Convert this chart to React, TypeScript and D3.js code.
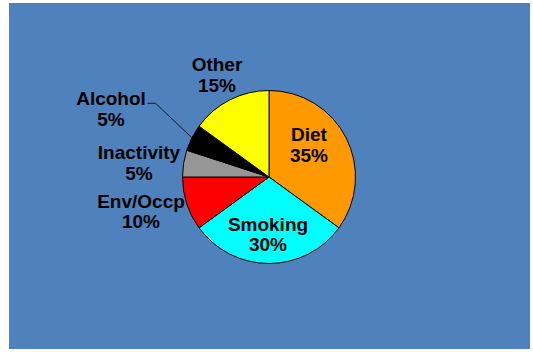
import React from "react";
import * as d3 from "d3";

// causes of cancer, share in %
const categories = ["Diet", "Smoking", "Env/Occp", "Inactivity", "Alcohol", "Other"];
const shares = [35, 30, 10, 5, 5, 15];
const sliceColors = ["#FF9900", "#00FFFF", "#FF0000", "#969696", "#000000", "#FFFF00"];

// label block placement relative to the pie centre (first baseline)
const labelOffsets: [number, number][] = [
  [40, -36],
  [-1, 53.5],
  [-128, 30.5],
  [-130, -18],
  [-158, -72],
  [-52, -106],
];

const W = 533;
const H = 354;
const cx = 269;
const cy = 177;
const radius = 86.5;

export default function App() {
  const data = categories.map((name, i) => ({ name, value: shares[i] }));

  const pie = d3
    .pie<{ name: string; value: number }>()
    .value((d) => d.value)
    .sort(null)
    .startAngle(0)
    .endAngle(2 * Math.PI);

  const arcs = pie(data);

  const arc = d3
    .arc<d3.PieArcDatum<{ name: string; value: number }>>()
    .innerRadius(0)
    .outerRadius(radius);

  const edgeArc = d3
    .arc<d3.PieArcDatum<{ name: string; value: number }>>()
    .innerRadius(radius)
    .outerRadius(radius);

  // leader line for Alcohol
  const alcohol = arcs[4];
  const [ex, ey] = edgeArc.centroid(alcohol);
  const [lx, ly] = labelOffsets[4];
  const lineStartX = cx + lx + 36.5;
  const lineY = cy + ly - 1.7;

  return (
    <svg
      width={W}
      height={H}
      style={{ position: "absolute", left: 0, top: 0 }}
      fontFamily="Arial, 'Liberation Sans', sans-serif"
    >
      <rect x={0} y={0} width={W} height={H} fill="#ffffff" />
      <rect x={9} y={3} width={521} height={346} fill="#4F81BD" />
      <g transform={`translate(${cx},${cy})`}>
        {arcs.map((a, i) => (
          <path
            key={a.data.name}
            d={arc(a) || ""}
            fill={sliceColors[i]}
            stroke="#000"
            strokeWidth={1}
          />
        ))}
      </g>
      <polyline
        points={`${lineStartX},${lineY} ${lineStartX + 8},${lineY} ${cx + ex},${cy + ey}`}
        fill="none"
        stroke="#000"
        strokeWidth={0.8}
      />
      {arcs.map((a, i) => {
        const [dx, dy] = labelOffsets[i];
        return (
          <text
            key={a.data.name + "-label"}
            x={cx + dx}
            y={cy + dy}
            textAnchor="middle"
            fontSize={19}
            fontWeight="bold"
            fill="#000"
          >
            <tspan x={cx + dx}>{a.data.name}</tspan>
            <tspan x={cx + dx} dy={20.7}>
              {a.data.value}%
            </tspan>
          </text>
        );
      })}
    </svg>
  );
}
